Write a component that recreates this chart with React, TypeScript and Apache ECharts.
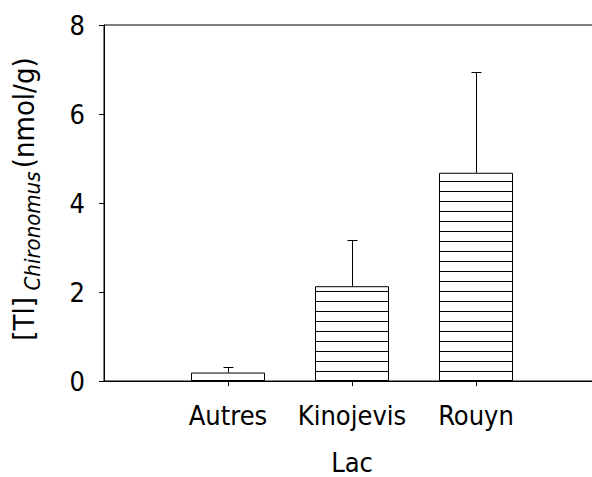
import React, { useEffect, useRef } from 'react';
import * as echarts from 'echarts';

// Lakes and mean thallium concentration in Chironomus larvae (nmol/g)
const categories = ['Autres', 'Kinojevis', 'Rouyn'];
const means = [0.19, 2.13, 4.68];
// upper standard error whisker length
const upperErrors = [0.12, 1.04, 2.26];

const yMin = 0;
const yMax = 8;
const yStep = 2;

// empty slots on both ends keep the bars off the axis edges
const axisSlots = ['', ...categories, ''];

const FONT = "'DejaVu Sans Condensed', 'DejaVu Sans', sans-serif";
const BAR_WIDTH = 74;
const HATCH_STEP = 10;
const CAP_HALF = 5;

export default function App() {
  const ref = useRef<HTMLDivElement>(null);

  useEffect(() => {
    if (!ref.current) return;
    const chart = echarts.init(ref.current, undefined, { renderer: 'svg' });

    const barData = categories.map((c, i) => [c, means[i]]);
    const errData = categories.map((c, i) => [c, means[i], upperErrors[i]]);

    const option: any = {
      animation: false,
      backgroundColor: '#fff',
      grid: {
        left: 104,
        top: 25,
        right: 0,
        bottom: 96,
        show: true,
        borderColor: '#000',
        borderWidth: 1,
        backgroundColor: 'transparent',
        outerBoundsMode: 'none',
      },
      xAxis: {
        type: 'category',
        data: axisSlots,
        boundaryGap: false,
        axisLine: { show: true, lineStyle: { color: '#000', width: 1 } },
        axisTick: {
          show: true,
          inside: false,
          length: 5,
          interval: (_i: number, v: string) => v !== '',
          lineStyle: { color: '#000', width: 1 },
        },
        axisLabel: {
          interval: 0,
          color: '#000',
          fontSize: 27,
          fontFamily: FONT,
          margin: 21,
        },
        splitLine: { show: false },
        name: 'Lac',
        nameLocation: 'middle',
        nameGap: 68,
        nameTextStyle: { color: '#000', fontSize: 27, fontFamily: FONT },
      },
      yAxis: {
        type: 'value',
        min: yMin,
        max: yMax,
        interval: yStep,
        axisLine: { show: true, lineStyle: { color: '#000', width: 1 } },
        axisTick: { show: true, inside: false, length: 5, lineStyle: { color: '#000', width: 1 } },
        axisLabel: { color: '#000', fontSize: 27, fontFamily: FONT, margin: 19 },
        splitLine: { show: false },
      },
      graphic: [
        {
          type: 'text',
          x: 26,
          y: 199,
          rotation: Math.PI / 2,
          style: {
            text: '{a|[Tl]}  {b|Chironomus} {a|(nmol/g)}',
            align: 'center',
            verticalAlign: 'middle',
            fill: '#000',
            rich: {
              a: { fontSize: 29, fontFamily: FONT, verticalAlign: 'bottom', padding: [0, 0, 5, 0] },
              b: { fontSize: 22, fontFamily: FONT, fontStyle: 'italic', verticalAlign: 'bottom' },
            },
          },
        },
      ],
      series: [
        {
          type: 'bar',
          data: barData,
          barWidth: BAR_WIDTH,
          itemStyle: { color: '#fff', borderColor: '#000', borderWidth: 1 },
          z: 2,
        },
        {
          // horizontal hatching inside each bar, stepped up from the baseline
          type: 'custom',
          data: barData,
          z: 3,
          renderItem: (_params: any, api: any) => {
            const x = api.value(0);
            const v = api.value(1);
            const base = api.coord([x, 0]);
            const top = api.coord([x, v]);
            const half = BAR_WIDTH / 2;
            const children: any[] = [];
            for (let y = base[1] - HATCH_STEP; y > top[1] + 2; y -= HATCH_STEP) {
              const yy = Math.round(y) + 0.5;
              children.push({
                type: 'line',
                shape: { x1: base[0] - half, y1: yy, x2: base[0] + half, y2: yy },
                style: { stroke: '#000', lineWidth: 1 },
              });
            }
            return { type: 'group', children };
          },
        },
        {
          // upper error whiskers with caps
          type: 'custom',
          data: errData,
          z: 4,
          renderItem: (_params: any, api: any) => {
            const x = api.value(0);
            const m = api.value(1);
            const e = api.value(2);
            const top = api.coord([x, m]);
            const tip = api.coord([x, m + e]);
            const cx = Math.round(top[0]) + 0.5;
            const ty = Math.round(tip[1]) + 0.5;
            return {
              type: 'group',
              children: [
                {
                  type: 'line',
                  shape: { x1: cx, y1: top[1], x2: cx, y2: ty },
                  style: { stroke: '#000', lineWidth: 1 },
                },
                {
                  type: 'line',
                  shape: { x1: cx - CAP_HALF, y1: ty, x2: cx + CAP_HALF, y2: ty },
                  style: { stroke: '#000', lineWidth: 1 },
                },
              ],
            };
          },
        },
      ],
    };

    chart.setOption(option);
    return () => chart.dispose();
  }, []);

  // the plot frame runs past the right edge, so the chart is wider than its clip box
  return (
    <div style={{ position: 'absolute', left: 0, top: 0, width: 592, height: 477, overflow: 'hidden' }}>
      <div ref={ref} style={{ width: 600, height: 477 }} />
    </div>
  );
}
